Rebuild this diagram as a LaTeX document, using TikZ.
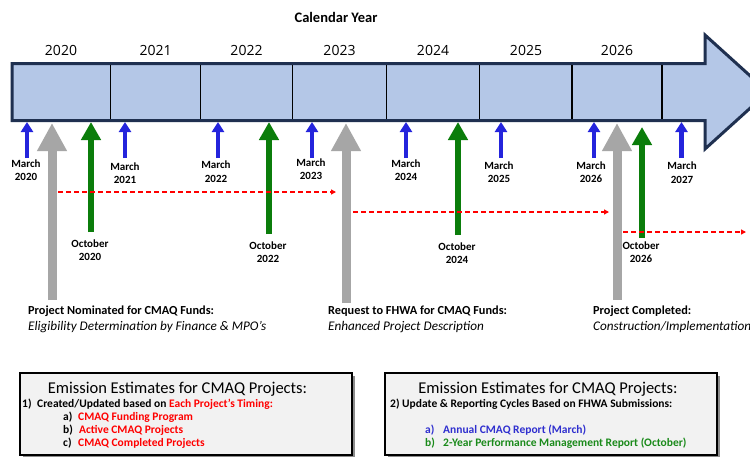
\documentclass[tikz,border=0pt]{standalone}
\usepackage{fontspec}
\setmainfont{Carlito}
\newfontfamily\yearfont{Open Sans}
\usetikzlibrary{arrows.meta}
\definecolor{barfill}{HTML}{B4C7E7}
\definecolor{barline}{HTML}{1F3050}
\definecolor{mblue}{HTML}{2424DC}
\definecolor{ogreen}{HTML}{0B7D0B}
\definecolor{pgray}{HTML}{A6A6A6}
\definecolor{boxfill}{HTML}{F2F2F2}
\definecolor{tblue}{HTML}{2F2FCF}
\definecolor{tgreen}{HTML}{1A8A1A}
\tikzset{
  yearlbl/.style={font=\yearfont\fontsize{14}{16}\selectfont, anchor=base, inner sep=0pt},
  marchlbl/.style={font=\bfseries\fontsize{11}{13.6}\selectfont, align=center, inner sep=0pt},
  grayarrow/.style={draw=pgray, line width=9pt, -{Triangle[width=28pt,length=28pt]}},
  greenarrow/.style={draw=ogreen, line width=6.5pt, -{Triangle[width=19pt,length=18pt]}},
  bluearrow/.style={draw=mblue, line width=4.5pt, -{Triangle[width=12pt,length=10pt]}},
  reddash/.style={draw=red, line width=1.5pt, dash pattern=on 5pt off 3pt, -{Triangle[width=5pt,length=5pt]}},
  projbold/.style={font=\bfseries\fontsize{12.3}{14}\selectfont, anchor=base west, inner sep=0pt},
  projit/.style={font=\itshape\fontsize{13.2}{15}\selectfont, anchor=base west, inner sep=0pt},
  boxtitle/.style={font=\fontsize{16.5}{18}\selectfont, anchor=base, inner sep=0pt},
  boxline/.style={font=\bfseries\fontsize{11.5}{13}\selectfont, anchor=base west, inner sep=0pt},
  boxitem/.style={font=\bfseries\fontsize{11.5}{13}\selectfont, anchor=base west, inner sep=0pt},
  infobox/.style={draw=black, line width=1.5pt, fill=boxfill},
}
\begin{document}
\begin{tikzpicture}[x=1pt,y=-1pt]
\useasboundingbox (0,0) rectangle (750,456);
\clip (0,0) rectangle (750,456);
\fill[white] (0,0) rectangle (750,456);

% title
\node[font=\bfseries\fontsize{14.5}{16}\selectfont, anchor=base, inner sep=0pt] (caltitle) at (336,22.5) {Calendar Year};

% timeline bar
\draw[barline, line width=3pt, fill=barfill, line join=miter]
  (12,63.5) -- (705,63.5) -- (705,35) -- (768,92) -- (705,149) -- (705,120.5) -- (12,120.5) -- cycle;
\foreach \xx in {110.7,200.7,292.3,386.7,479.7,572,662}
  \draw[black, line width=1.2pt] (\xx,65) -- (\xx,119);

% year labels
\node[yearlbl] (y2020) at (61,55) {2020};
\node[yearlbl] (y2021) at (155.7,55) {2021};
\node[yearlbl] (y2022) at (246.5,55) {2022};
\node[yearlbl] (y2023) at (339.5,55) {2023};
\node[yearlbl] (y2024) at (433,55) {2024};
\node[yearlbl] (y2025) at (526,55) {2025};
\node[yearlbl] (y2026) at (617,55) {2026};

% gray arrows
\coordinate (g1s) at (52,300);  \coordinate (g1e) at (52,123);
\coordinate (g2s) at (346,303); \coordinate (g2e) at (346,123);
\coordinate (g3s) at (617,300); \coordinate (g3e) at (617,123);
\draw[grayarrow] (g1s) -- (g1e);
\draw[grayarrow] (g2s) -- (g2e);
\draw[grayarrow] (g3s) -- (g3e);

% green arrows
\coordinate (o20s) at (91,232);  \coordinate (o20e) at (91,122);
\coordinate (o22s) at (269,234); \coordinate (o22e) at (269,122);
\coordinate (o24s) at (458,235); \coordinate (o24e) at (458,122);
\coordinate (o26s) at (642,238); \coordinate (o26e) at (642,127);
\draw[greenarrow] (o20s) -- (o20e);
\draw[greenarrow] (o22s) -- (o22e);
\draw[greenarrow] (o24s) -- (o24e);
\draw[greenarrow] (o26s) -- (o26e);

% blue arrows
\foreach \nm/\xx in {m20/27,m21/125,m22/218,m23/312,m24/406,m25/501,m26/594,m27/681.5}{
  \coordinate (\nm s) at (\xx,158);
  \coordinate (\nm e) at (\xx,122);
  \draw[bluearrow] (\nm s) -- (\nm e);
}

% red dashed arrows
\coordinate (r1s) at (58,192);  \coordinate (r1e) at (336,192);
\coordinate (r2s) at (353,212); \coordinate (r2e) at (609,212);
\coordinate (r3s) at (623,232); \coordinate (r3e) at (746,232);
\draw[reddash] (r1s) -- (r1e);
\draw[reddash] (r2s) -- (r2e);
\draw[reddash] (r3s) -- (r3e);

% March labels
\node[marchlbl] (lm20) at (26,170) {March\\2020};
\node[marchlbl] (lm21) at (125,173) {March\\2021};
\node[marchlbl] (lm22) at (216,171.7) {March\\2022};
\node[marchlbl] (lm23) at (311,169) {March\\2023};
\node[marchlbl] (lm24) at (406,170) {March\\2024};
\node[marchlbl] (lm25) at (499,172) {March\\2025};
\node[marchlbl] (lm26) at (591,172) {March\\2026};
\node[marchlbl] (lm27) at (682,172.5) {March\\2027};

% October labels
\node[marchlbl] (lo20) at (90,250) {October\\2020};
\node[marchlbl] (lo22) at (268,252.3) {October\\2022};
\node[marchlbl] (lo24) at (457,253.3) {October\\2024};
\node[marchlbl] (lo26) at (641,252) {October\\2026};

% project labels
\node[projbold] (p1a) at (28,314.3) {Project Nominated for CMAQ Funds:};
\node[projit]   (p1b) at (28,330.7) {Eligibility Determination by Finance \& MPO’s};
\node[projbold] (p2a) at (328,314.3) {Request to FHWA for CMAQ Funds:};
\node[projit]   (p2b) at (328,330.7) {Enhanced Project Description};
\node[projbold] (p3a) at (593,314.3) {Project Completed:};
\node[projit]   (p3b) at (593,330.7) {Construction/Implementation};

% boxes
\fill[black!45] (22.5,375.5) rectangle (354.5,458);
\draw[infobox] (20,373) rectangle (352,455);
\fill[black!45] (387.5,375.5) rectangle (719.5,458);
\draw[infobox] (385,373) rectangle (717,455);

\node[boxtitle] (b1t) at (177.5,393.3) {Emission Estimates for CMAQ Projects:};
\node[boxline] (b1n) at (22,407) {1)};
\node[boxline] (b1l) at (37,407) {Created/Updated based on \textcolor{red}{Each Project’s Timing:}};
\node[boxitem] (b1an) at (63,420) {a)};
\node[boxitem, text=red] (b1a) at (78,420) {CMAQ Funding Program};
\node[boxitem] (b1bn) at (63,433.3) {b)};
\node[boxitem, text=red] (b1b) at (79,433.3) {Active CMAQ Projects};
\node[boxitem] (b1cn) at (63,446) {c)};
\node[boxitem, text=red] (b1c) at (78,446) {CMAQ Completed Projects};

\node[boxtitle] (b2t) at (548,393.3) {Emission Estimates for CMAQ Projects:};
\node[boxline] (b2l) at (390,407.7) {2) Update \& Reporting Cycles Based on FHWA Submissions:};
\node[boxitem, text=tblue] (b2an) at (425,433.3) {a)};
\node[boxitem, text=tblue] (b2a) at (443,433.3) {Annual CMAQ Report (March)};
\node[boxitem, text=tgreen] (b2bn) at (425,446) {b)};
\node[boxitem, text=tgreen] (b2b) at (443,446) {2-Year Performance Management Report (October)};
\end{tikzpicture}
\end{document}
